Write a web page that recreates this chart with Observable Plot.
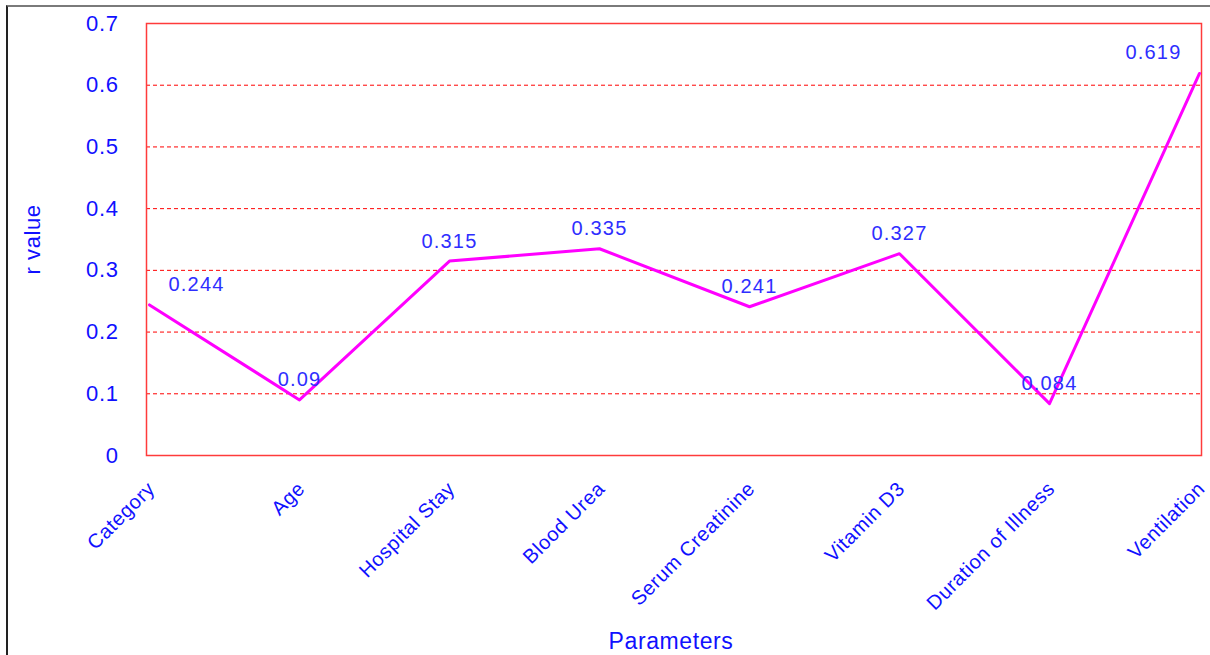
<!DOCTYPE html>
<html>
<head>
<meta charset="utf-8">
<script src="https://cdn.jsdelivr.net/npm/d3@7"></script>
<script src="https://cdn.jsdelivr.net/npm/@observablehq/plot@0.6"></script>
<style>
  html, body { margin: 0; padding: 0; background: #fff; }
  #wrap { position: relative; width: 1210px; height: 655px; overflow: hidden; }
  #border { position: absolute; left: 6px; top: 5px; width: 1300px; height: 800px;
            border-top: 2px solid #7a7a7a; border-left: 2px solid #222; box-sizing: border-box; pointer-events: none; }
  #chart { position: absolute; left: 0; top: 0; }
</style>
</head>
<body>
<div id="wrap"><div id="chart"></div><div id="border"></div></div>
<script>
const categories = ["Category", "Age", "Hospital Stay", "Blood Urea", "Serum Creatinine", "Vitamin D3", "Duration of Illness", "Ventilation"];
const rValues = [0.244, 0.09, 0.315, 0.335, 0.241, 0.327, 0.084, 0.619];
const yTicks = [0, 0.1, 0.2, 0.3, 0.4, 0.5, 0.6, 0.7];
const gridValues = [0.1, 0.2, 0.3, 0.4, 0.5, 0.6];

const data = categories.map((c, i) => ({param: c, r: rValues[i], i}));
const last = data.length - 1;
const blue = "#1010ff";
const labelBlue = "#2e2eff";
const fontFam = "Liberation Sans, Arial, sans-serif";

const chart = Plot.plot({
  width: 1210,
  height: 655,
  marginLeft: 146,
  marginRight: 9,
  marginTop: 23,
  marginBottom: 200,
  style: {fontFamily: fontFam, background: "transparent"},
  x: {type: "point", domain: categories, padding: 0},
  y: {domain: [0, 0.7]},
  marks: [
    Plot.ruleY(gridValues, {stroke: "#ff0000", strokeWidth: 1, strokeDasharray: "4,3"}),
    Plot.frame({stroke: "#ff3b3b", strokeWidth: 1.5}),
    Plot.axisY({ticks: yTicks, tickFormat: d => String(d), tickSize: 0, tickPadding: 28,
      fontSize: 22, color: blue, label: null}),
    Plot.axisX({tickRotate: -45, tickSize: 0, tickPadding: 22, dx: 2, dy: 8,
      fontSize: 20, color: blue, label: null}),
    Plot.line(data, {x: "param", y: "r", stroke: "#ff00ff", strokeWidth: 3}),
    Plot.text(data.filter(d => d.i === 0), {x: "param", y: "r", text: d => String(d.r), dy: -20, dx: 19,
      textAnchor: "start", fill: labelBlue, fontSize: 20, className: "dlabel"}),
    Plot.text(data.filter(d => d.i > 0 && d.i < last), {x: "param", y: "r", text: d => String(d.r), dy: -20,
      fill: labelBlue, fontSize: 20, className: "dlabel"}),
    Plot.text(data.filter(d => d.i === last), {x: "param", y: "r", text: d => String(d.r), dy: -21, dx: -18,
      textAnchor: "end", fill: labelBlue, fontSize: 20, className: "dlabel"}),
    Plot.text(["r value"], {frameAnchor: "left", textAnchor: "middle", dx: -114, rotate: -90, fill: blue, fontSize: 22}),
    Plot.text(["Parameters"], {frameAnchor: "bottom", dx: -3, dy: 193, fill: blue, fontSize: 23})
  ]
});
chart.querySelectorAll("text").forEach(t => t.style.letterSpacing = "0.6px");
chart.querySelectorAll("g.dlabel text").forEach(t => t.style.letterSpacing = "1.2px");
document.getElementById("chart").appendChild(chart);
</script>
</body>
</html>
